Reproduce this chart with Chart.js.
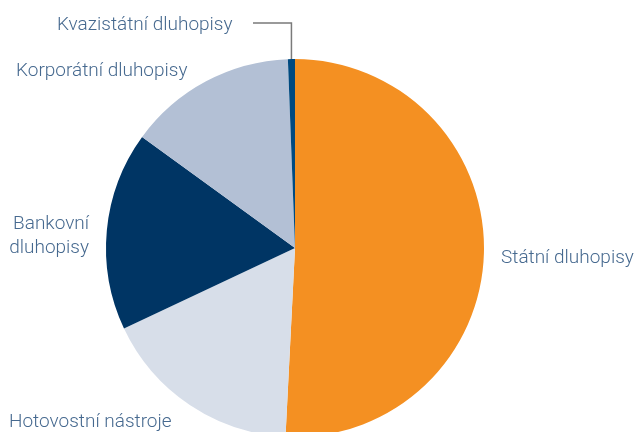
<!DOCTYPE html>
<html>
<head>
<meta charset="utf-8">
<script src="https://cdn.jsdelivr.net/npm/chart.js@4"></script>
<style>
  html, body { margin: 0; padding: 0; background: #fff; overflow: hidden; }
  #wrap { width: 638px; height: 432px; position: relative; }
</style>
</head>
<body>
<div id="wrap"><canvas id="chart"></canvas></div>
<script>
// kategorie a podíly (%)
const labels = ['Státní dluhopisy', 'Hotovostní nástroje', 'Bankovní dluhopisy', 'Korporátní dluhopisy', 'Kvazistátní dluhopisy'];
const values = [50.8, 17.2, 17.0, 14.4, 0.6];
const colors = ['#f49022', '#d7dee9', '#003564', '#b3c0d5', '#004a80'];

// rozmístění popisků (text, ne data)
const labelPos = [
    { x: 501, y: 263, align: 'left', lines: ['Státní dluhopisy'] },
    { x: 9, y: 427, align: 'left', lines: ['Hotovostní nástroje'] },
    { x: 89, y: 229, align: 'right', lines: ['Bankovní', 'dluhopisy'] },
    { x: 16, y: 76, align: 'left', lines: ['Korporátní dluhopisy'] },
    { x: 57, y: 30, align: 'left', lines: ['Kvazistátní dluhopisy'], leader: { y: 23, x: 253 } }
];

const pieLabels = {
    id: 'pieLabels',
    afterDraw(chart) {
        const ctx = chart.ctx;
        const arcs = chart.getDatasetMeta(0).data;
        ctx.save();
        ctx.font = '300 19px Roboto, "Liberation Sans", sans-serif';
        ctx.fillStyle = '#46698f';
        ctx.textBaseline = 'alphabetic';
        labelPos.forEach((p, i) => {
            ctx.textAlign = p.align;
            p.lines.forEach((t, j) => ctx.fillText(t, p.x, p.y + j * 24));
            if (p.leader) {
                const a = arcs[i];
                const mid = (a.startAngle + a.endAngle) / 2;
                const sx = a.x + Math.cos(mid) * a.outerRadius;
                const sy = a.y + Math.sin(mid) * a.outerRadius;
                ctx.strokeStyle = '#7a7a7a';
                ctx.lineWidth = 1.5;
                ctx.beginPath();
                ctx.moveTo(sx, sy);
                ctx.lineTo(sx, p.leader.y);
                ctx.lineTo(p.leader.x, p.leader.y);
                ctx.stroke();
            }
        });
        ctx.restore();
    }
};

new Chart(document.getElementById('chart'), {
    type: 'pie',
    data: {
        labels: labels,
        datasets: [{
            data: values,
            backgroundColor: colors,
            borderWidth: 0,
            radius: 189,
            clip: false
        }]
    },
    options: {
        responsive: true,
        maintainAspectRatio: false,
        animation: false,
        layout: { padding: { left: 0, right: 48, top: 64, bottom: 0 } },
        plugins: {
            legend: { display: false },
            tooltip: { enabled: false }
        }
    },
    plugins: [pieLabels]
});
</script>
</body>
</html>
